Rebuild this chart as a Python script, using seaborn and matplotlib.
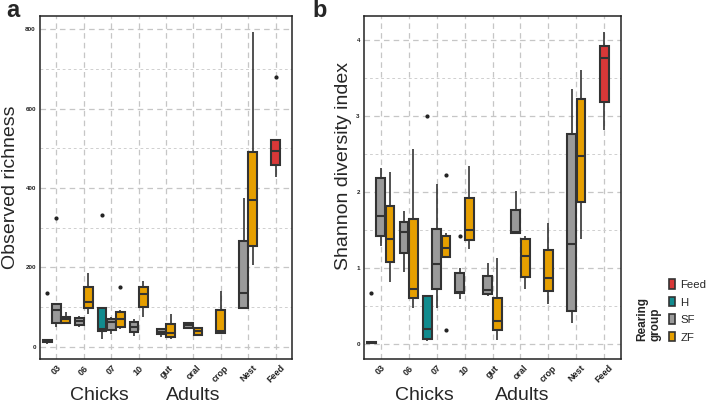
import numpy as np
import pandas as pd
import matplotlib
matplotlib.use("Agg")
import matplotlib.pyplot as plt
import seaborn as sns
from matplotlib.patches import Patch

categories = ["03", "06", "07", "10", "gut", "oral", "crop", "Nest", "Feed"]
groups = ["Feed", "H", "SF", "ZF"]
group_colors = ["#d93838", "#118b8e", "#9a9a9a", "#e69f00"]

# one entry per box: category, rearing group, samples
box_cat = ["03", "03", "03", "06", "06", "07", "07", "07", "10", "10",
           "gut", "gut", "oral", "oral", "crop", "Nest", "Nest", "Feed"]
box_group = ["H", "SF", "ZF", "SF", "ZF", "H", "SF", "ZF", "SF", "ZF",
             "SF", "ZF", "SF", "ZF", "ZF", "SF", "ZF", "Feed"]

richness = [
    [8, 10, 12, 14, 15, 16, 18, 18, 136],
    [50, 55, 61, 80, 94, 100, 107, 108, 324],
    [61, 61, 71, 76, 88],
    [49, 55, 64, 72, 77],
    [84, 97, 114, 152, 187],
    [21, 30, 40, 42, 44, 70, 99, 99, 332],
    [32, 42, 63, 69, 76],
    [46, 48, 51, 60, 70, 80, 89, 92, 152],
    [27, 38, 50, 63, 69],
    [74, 101, 133, 150, 167],
    [25, 32, 38, 44, 45],
    [21, 24, 35, 57, 82],
    [48, 48, 55, 59, 62],
    [31, 31, 40, 48, 48],
    [34, 36, 40, 93, 141],
    [95, 97, 136, 267, 376],
    [206, 255, 369, 490, 794],
    [429, 440, 459, 475, 494, 510, 522, 522, 679],
]

shannon = [
    [0.005, 0.008, 0.01, 0.015, 0.02, 0.025, 0.03, 0.03, 0.67],
    [1.29, 1.42, 1.68, 2.19, 2.31],
    [0.81, 1.08, 1.38, 1.81, 2.26],
    [0.95, 1.20, 1.47, 1.61, 1.75],
    [0.47, 0.60, 0.73, 1.65, 2.57],
    [0.04, 0.05, 0.07, 0.12, 0.20, 0.40, 0.63, 0.63, 3.00],
    [0.48, 0.73, 1.05, 1.52, 2.11],
    [0.19, 1.14, 1.14, 1.20, 1.27, 1.35, 1.42, 1.46, 2.23],
    [0.59, 0.62, 0.67, 0.68, 0.69, 0.80, 0.94, 1.00, 1.42],
    [1.25, 1.37, 1.50, 1.92, 2.34],
    [0.63, 0.66, 0.71, 0.90, 1.07],
    [0.05, 0.18, 0.31, 0.61, 1.13],
    [1.45, 1.46, 1.48, 1.77, 2.02],
    [0.72, 0.88, 1.16, 1.38, 1.42],
    [0.53, 0.70, 0.87, 1.24, 1.59],
    [0.28, 0.44, 1.32, 2.76, 3.36],
    [1.38, 1.87, 2.47, 3.23, 3.61],
    [2.82, 3.18, 3.76, 3.92, 4.11],
]

sns.set_style("white")
plt.rcParams["font.family"] = ["Liberation Sans", "DejaVu Sans"]
plt.rcParams["lines.scale_dashes"] = False

palette = dict(zip(groups, group_colors))

# ggplot-like dodge: a category is split between the groups present in it
pos = []
for c, g in zip(box_cat, box_group):
    present = [gg for cc, gg in zip(box_cat, box_group) if cc == c]
    k = present.index(g)
    pos.append(categories.index(c) + (k - (len(present) - 1) / 2) / 3)


def long_table(values):
    rows = []
    for p, g, vals in zip(pos, box_group, values):
        for v in vals:
            rows.append({"pos": p, "group": g, "value": v})
    return pd.DataFrame(rows)


def draw(ax, values, yticks, ylabel):
    df = long_table(values)
    sns.boxplot(data=df, x="pos", y="value", hue="group", palette=palette,
                native_scale=True, dodge=False, width=0.95, saturation=1,
                linecolor="#333333", linewidth=1.5, fliersize=2,
                showcaps=False, legend=False, ax=ax,
                flierprops=dict(marker="o", markerfacecolor="#222222",
                                markeredgecolor="#222222"),
                whiskerprops=dict(linewidth=1.2))
    lo, hi = df["value"].min(), df["value"].max()
    pad = 0.05 * (hi - lo)
    ax.set_ylim(lo - pad, hi + pad)
    ax.set_xlim(-0.6, len(categories) - 0.4)
    ax.set_xticks(range(len(categories)))
    ax.set_xticklabels(categories, rotation=45, ha="center",
                       fontsize=6.5, fontweight="bold", color="#222222")
    ax.set_yticks(yticks)
    ax.set_yticklabels([f"{t:g}" for t in yticks], fontsize=4.5,
                       fontweight="bold", color="#222222")
    step = yticks[1] - yticks[0]
    ax.set_yticks(np.arange(yticks[0] + step / 2, yticks[-1], step), minor=True)
    ax.tick_params(which="major", length=2, width=0.6, color="#666666", pad=1)
    ax.tick_params(which="minor", length=0)
    ax.grid(True, which="major", axis="both", color="#c6c6c6",
            linestyle=(0, (4, 3)), linewidth=0.9)
    ax.grid(True, which="minor", axis="y", color="#cfcfcf",
            linestyle=(0, (2, 2)), linewidth=0.7)
    ax.set_axisbelow(True)
    for s in ax.spines.values():
        s.set_color("#222222")
        s.set_linewidth(1.1)
    ax.set_xlabel("")
    ax.set_ylabel(ylabel, fontsize=14)


fig = plt.figure(figsize=(7.09, 4.03), dpi=100)
W, H = 709, 403
ax_a = fig.add_axes([40 / W, 1 - 359.3 / H, 252 / W, 343.3 / H])
ax_b = fig.add_axes([364 / W, 1 - 359.3 / H, 257 / W, 343.3 / H])

draw(ax_a, richness, [0, 200, 400, 600, 800], "Observed richness")
draw(ax_b, shannon, [0, 1, 2, 3, 4], "Shannon diversity index")
ax_a.yaxis.set_label_coords(-0.083, 0.5)
ax_b.yaxis.set_label_coords(-0.047, 0.563)

# group captions under the axes
for x in [99, 424]:
    fig.text(x / W, 3 / H, "Chicks", fontsize=14, ha="center", va="baseline")
for x in [193, 522]:
    fig.text(x / W, 3 / H, "Adults", fontsize=14, ha="center", va="baseline")

fig.text(6 / W, 1 - 17 / H, "a", fontsize=17, fontweight="bold", va="baseline")
fig.text(312 / W, 1 - 17 / H, "b", fontsize=17, fontweight="bold", va="baseline")

handles = [Patch(facecolor=c, edgecolor="#333333", linewidth=1.2) for c in group_colors]
fig.legend(handles, groups, loc="center left", bbox_to_anchor=(669 / W, 1 - 311 / H),
           frameon=False, fontsize=8.2, handlelength=0.55, handleheight=0.9,
           handletextpad=0.45, labelspacing=0.6, borderpad=0, borderaxespad=0)
fig.text(636 / W, 62 / H, "Rearing\ngroup", rotation=90, ha="left", va="bottom",
         fontsize=8.5, fontweight="bold", multialignment="left", linespacing=1.2)

fig.savefig("out.png", dpi=100)
